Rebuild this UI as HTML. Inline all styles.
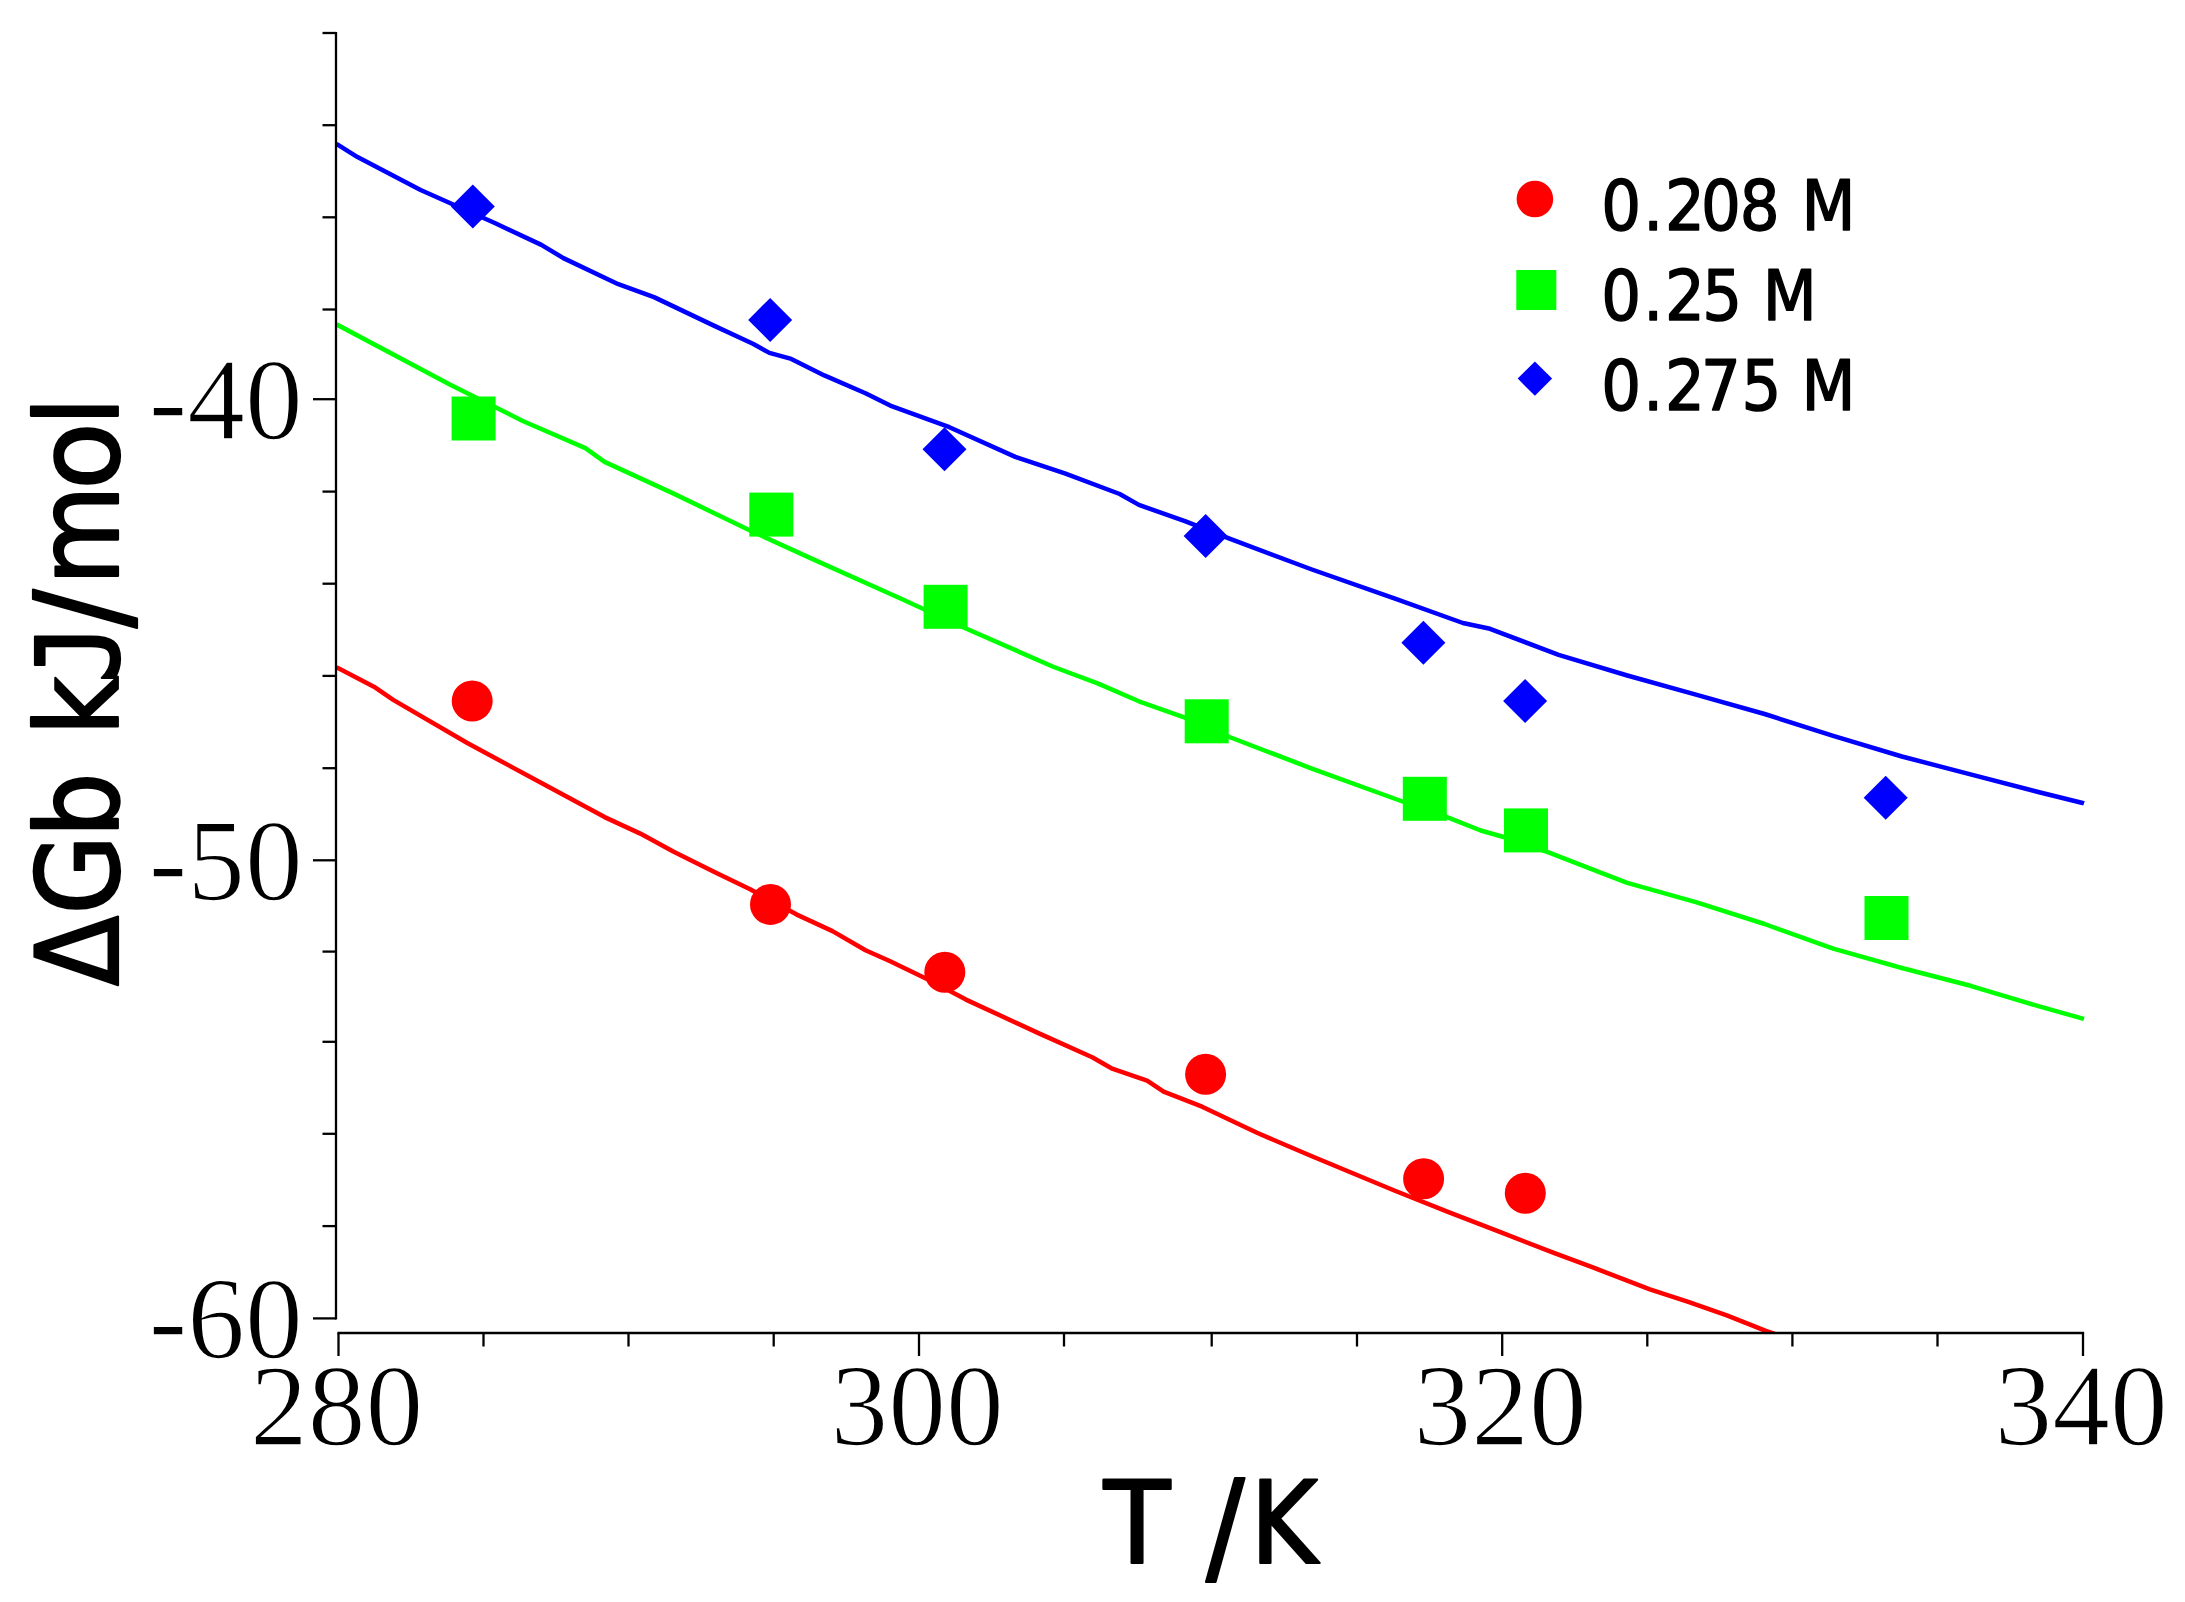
<!DOCTYPE html>
<html lang="en"><head><meta charset="utf-8"><title>ΔGb vs T</title>
<style>
html,body{margin:0;padding:0;background:#fff;}
body{width:2185px;height:1602px;overflow:hidden;}
svg{display:block;}
</style></head><body>
<svg width="2185" height="1602" viewBox="0 0 2185 1602">
<rect width="2185" height="1602" fill="#fff"/>
<defs><clipPath id="plot"><rect x="336" y="0" width="1749" height="1333"/></clipPath></defs>
<g clip-path="url(#plot)" fill="none" stroke-width="4.5" stroke-linejoin="round">
<polyline points="336.5,667.3 336.9,667.5 373.9,686.7 393.2,699.9 467.3,743.0 535.9,780.0 604.6,817.1 640.3,833.6 673.2,851.4 714.4,872.0 750.1,889.3 796.8,914.6 832.5,931.1 865.5,950.3 890.2,961.3 930.0,980.5 965.9,999.6 1037.3,1032.6 1092.2,1057.3 1111.4,1068.3 1147.1,1080.6 1163.6,1091.6 1202.1,1106.7 1257.0,1132.8 1311.9,1156.2 1394.3,1190.5 1449.2,1212.4 1503.0,1233.2 1553.8,1252.8 1592.2,1267.2 1649.9,1289.3 1688.3,1301.8 1726.8,1315.3 1765.2,1330.7 1800.0,1342.5" stroke="#ff0000"/>
<polyline points="336.5,324.4 336.9,324.6 450.8,385.0 522.2,420.7 585.4,448.1 604.6,461.9 673.2,493.4 750.1,530.5 813.3,559.4 900.0,598.3 965.9,628.5 1053.8,667.0 1097.7,683.4 1138.9,701.3 1185.6,717.8 1229.5,737.0 1311.9,768.6 1402.5,801.5 1447.7,817.4 1480.7,830.5 1503.6,837.0 1549.2,852.6 1600.0,872.3 1627.3,882.8 1695.9,902.1 1764.6,924.0 1833.2,948.7 1901.9,968.0 1970.5,985.8 2039.2,1006.4 2083.7,1018.8 2084.0,1018.9" stroke="#00ff00"/>
<polyline points="336.5,144.0 336.9,144.2 357.5,157.1 420.6,190.0 494.8,223.0 541.4,244.9 563.4,258.1 618.3,284.2 654.0,297.1 714.4,325.9 752.9,343.8 769.4,352.9 791.3,358.9 824.3,375.4 865.5,393.2 890.2,405.6 949.4,427.2 1015.3,456.9 1064.8,473.4 1119.7,494.0 1138.9,504.9 1185.6,521.4 1229.5,538.7 1311.9,569.5 1394.3,598.3 1462.9,623.0 1490.0,628.8 1558.6,654.9 1627.3,675.5 1695.9,694.7 1764.6,714.0 1833.2,735.9 1901.9,756.5 1970.5,774.4 2039.2,792.2 2083.7,803.2 2084.0,803.3" stroke="#0000ff"/>
</g>
<g>
<circle cx="472.2" cy="701.0" r="20.5" fill="#ff0000"/>
<circle cx="770.5" cy="904.4" r="20.5" fill="#ff0000"/>
<circle cx="944.8" cy="972.2" r="20.5" fill="#ff0000"/>
<circle cx="1205.6" cy="1074.3" r="20.5" fill="#ff0000"/>
<circle cx="1423.6" cy="1178.8" r="20.5" fill="#ff0000"/>
<circle cx="1525.3" cy="1193.2" r="20.5" fill="#ff0000"/>
<rect x="451.6" y="396.5" width="44" height="44" fill="#00ff00"/>
<rect x="749.3" y="492.6" width="44" height="44" fill="#00ff00"/>
<rect x="923.6" y="584.8" width="44" height="44" fill="#00ff00"/>
<rect x="1184.7" y="699.3" width="44" height="44" fill="#00ff00"/>
<rect x="1402.8" y="776.8" width="44" height="44" fill="#00ff00"/>
<rect x="1504.0" y="808.4" width="44" height="44" fill="#00ff00"/>
<rect x="1864.5" y="896.0" width="44" height="44" fill="#00ff00"/>
<polygon points="450.8,206.5 472.8,184.5 494.8,206.5 472.8,228.5" fill="#0000ff"/>
<polygon points="748.2,319.9 770.2,297.9 792.2,319.9 770.2,341.9" fill="#0000ff"/>
<polygon points="922.5,449.2 944.5,427.2 966.5,449.2 944.5,471.2" fill="#0000ff"/>
<polygon points="1183.6,536.0 1205.6,514.0 1227.6,536.0 1205.6,558.0" fill="#0000ff"/>
<polygon points="1401.4,642.8 1423.4,620.8 1445.4,642.8 1423.4,664.8" fill="#0000ff"/>
<polygon points="1503.1,701.1 1525.1,679.1 1547.1,701.1 1525.1,723.1" fill="#0000ff"/>
<polygon points="1863.7,797.7 1885.7,775.7 1907.7,797.7 1885.7,819.7" fill="#0000ff"/>
</g>
<g stroke="#000" stroke-width="2.3" fill="none" stroke-linecap="butt">
<line x1="336" y1="32" x2="336" y2="1319.5"/>
<line x1="337.4" y1="1333" x2="2084.1" y2="1333"/>
<line x1="322.5" y1="33" x2="336" y2="33"/>
<line x1="322.5" y1="125.2" x2="336" y2="125.2"/>
<line x1="322.5" y1="217.3" x2="336" y2="217.3"/>
<line x1="322.5" y1="309.5" x2="336" y2="309.5"/>
<line x1="322.5" y1="491.6" x2="336" y2="491.6"/>
<line x1="322.5" y1="583.7" x2="336" y2="583.7"/>
<line x1="322.5" y1="675.9" x2="336" y2="675.9"/>
<line x1="322.5" y1="768.2" x2="336" y2="768.2"/>
<line x1="322.5" y1="951.6" x2="336" y2="951.6"/>
<line x1="322.5" y1="1041.8" x2="336" y2="1041.8"/>
<line x1="322.5" y1="1133.8" x2="336" y2="1133.8"/>
<line x1="322.5" y1="1226.1" x2="336" y2="1226.1"/>
<line x1="313" y1="399.2" x2="336" y2="399.2"/>
<line x1="313" y1="860.3" x2="336" y2="860.3"/>
<line x1="313" y1="1318.4" x2="336" y2="1318.4"/>
<line x1="483.5" y1="1333" x2="483.5" y2="1346.5"/>
<line x1="628.5" y1="1333" x2="628.5" y2="1346.5"/>
<line x1="773.7" y1="1333" x2="773.7" y2="1346.5"/>
<line x1="1064" y1="1333" x2="1064" y2="1346.5"/>
<line x1="1211.7" y1="1333" x2="1211.7" y2="1346.5"/>
<line x1="1357" y1="1333" x2="1357" y2="1346.5"/>
<line x1="1647.3" y1="1333" x2="1647.3" y2="1346.5"/>
<line x1="1792.4" y1="1333" x2="1792.4" y2="1346.5"/>
<line x1="1937.5" y1="1333" x2="1937.5" y2="1346.5"/>
<line x1="338.5" y1="1333" x2="338.5" y2="1356"/>
<line x1="919" y1="1333" x2="919" y2="1356"/>
<line x1="1502.2" y1="1333" x2="1502.2" y2="1356"/>
<line x1="2083" y1="1333" x2="2083" y2="1356"/>
</g>
<g font-family="'Liberation Serif', 'DejaVu Serif', serif" font-size="115.5" fill="#000" stroke="#fff" stroke-width="1.6">
<text x="302.8" y="438.5" text-anchor="end">-40</text>
<text x="302.8" y="899.6" text-anchor="end">-50</text>
<text x="302.8" y="1357.7" text-anchor="end">-60</text>
<text x="336.5" y="1444.5" text-anchor="middle">280</text>
<text x="917.0" y="1444.5" text-anchor="middle">300</text>
<text x="1500.2" y="1444.5" text-anchor="middle">320</text>
<text x="2081.0" y="1444.5" text-anchor="middle">340</text>
</g>
<g font-family="'DejaVu Sans Condensed', 'DejaVu Sans', 'Liberation Sans', sans-serif" font-stretch="condensed" fill="#000" stroke="#000" stroke-linejoin="round">
<text y="1563.4" font-size="114" stroke-width="2.2"><tspan x="1103.7" textLength="66.4" lengthAdjust="spacingAndGlyphs">T</tspan><tspan x="1170"> </tspan><tspan x="1205.9" dy="6.6" font-size="127">/</tspan><tspan x="1250.2" dy="-6.6">K</tspan></text>
<text transform="translate(119.2,986.4) rotate(-90)" y="-1" font-size="114" stroke-width="2.2"><tspan x="0.3 72 148.8 215 250.6">ΔGb k</tspan><tspan x="303.2" font-family="'DejaVu Sans Mono', 'Liberation Mono', monospace" textLength="60.4" lengthAdjust="spacingAndGlyphs">J</tspan><tspan x="358.3" dy="6.6" font-size="127">/</tspan><tspan x="401.1" dy="-6.6">m</tspan><tspan x="496.7" textLength="67.4" lengthAdjust="spacingAndGlyphs">o</tspan><tspan x="560.8">l</tspan></text>
<text x="1601.3 1643.2 1665.0 1701.0 1739.7 1780 1801.6" y="229.9" font-size="69.6" stroke-width="1.4">0.208 M</text>
<text x="1601.3 1643.2 1665.0 1702.3 1742 1762.7" y="319.9" font-size="69.6" stroke-width="1.4">0.25 M</text>
<text x="1601.3 1643.2 1665.0 1701.1 1741.4 1781 1801.6" y="409.5" font-size="69.6" stroke-width="1.4">0.275 M</text>
</g>
<circle cx="1534.9" cy="199.0" r="18.3" fill="#ff0000"/>
<rect x="1516.3" y="270.0" width="40" height="40" fill="#00ff00"/>
<polygon points="1517.7,378.6 1534.9,361.4 1552.1,378.6 1534.9,395.8" fill="#0000ff"/>
</svg></body></html>
